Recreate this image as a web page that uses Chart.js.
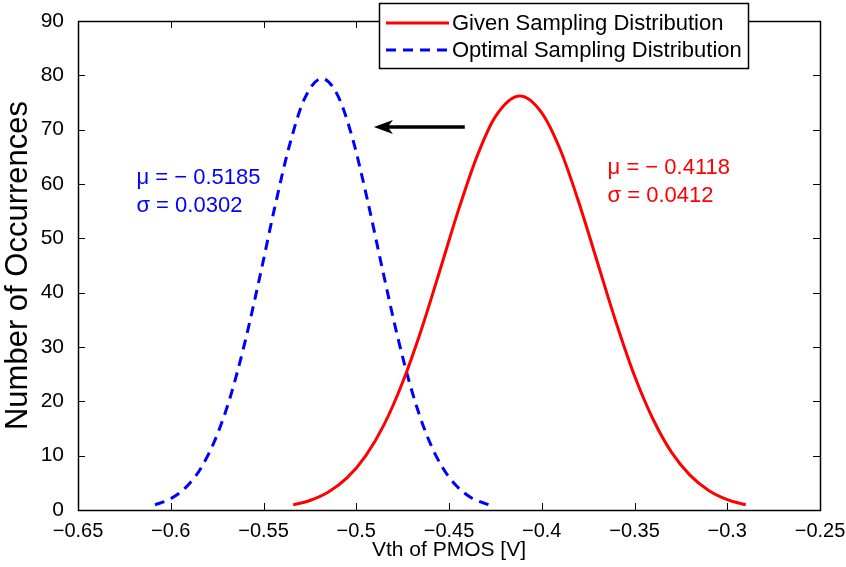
<!DOCTYPE html>
<html>
<head>
<meta charset="utf-8">
<script src="https://cdn.jsdelivr.net/npm/chart.js@4.4.1/dist/chart.umd.min.js"></script>
<style>
  html, body { margin: 0; padding: 0; background: #fff; }
  #wrap { width: 846px; height: 567px; }
</style>
</head>
<body>
<div id="wrap"><canvas id="chart" width="846" height="567"></canvas></div>
<script>
// Values
const givenX = [-0.534, -0.525, -0.515, -0.505, -0.495, -0.485, -0.475, -0.465, -0.455, -0.445, -0.435, -0.425,
                -0.4118, -0.40, -0.39, -0.38, -0.37, -0.36, -0.35, -0.34, -0.33, -0.32, -0.31, -0.30, -0.29];
const givenY = [0.94, 1.75, 3.31, 5.90, 9.92, 15.7, 23.5, 33.1, 44.0, 55.1, 65.0, 72.4,
                76.2, 73.1, 66.3, 56.6, 45.6, 34.6, 24.7, 16.7, 10.6, 6.37, 3.60, 1.92, 0.96];

const optX = [-0.6085, -0.600, -0.592, -0.584, -0.576, -0.568, -0.560, -0.552, -0.544, -0.536, -0.528, -0.5185,
              -0.510, -0.502, -0.494, -0.486, -0.478, -0.470, -0.462, -0.454, -0.446, -0.438, -0.4285];
const optY = [0.94, 2.08, 4.11, 7.56, 13.0, 20.7, 30.9, 42.9, 55.6, 67.1, 75.6, 79.4,
              76.3, 68.4, 57.1, 44.5, 32.3, 21.9, 13.8, 8.11, 4.45, 2.27, 0.94];

const xTicks = [-0.65, -0.6, -0.55, -0.5, -0.45, -0.4, -0.35, -0.3, -0.25];
const yTicks = [0, 10, 20, 30, 40, 50, 60, 70, 80, 90];

const legendLabels = ['Given Sampling Distribution', 'Optimal Sampling Distribution'];
const optText = ['\u03bc = \u2212 0.5185', '\u03c3 = 0.0302'];
const givenText = ['\u03bc = \u2212 0.4118', '\u03c3 = 0.0412'];
const optTextPos = [-0.6185, 61.2];
const givenTextPos = [-0.3645, 63.0];
const arrowFrom = [-0.4415, 70.5];
const arrowTo = [-0.4905, 70.5];

const FONT = '"Liberation Sans", Arial, Helvetica, sans-serif';
const fmt = v => String(Math.round(v * 100) / 100).replace('-', '\u2212');

const pts = (xs, ys) => xs.map((x, i) => ({ x, y: ys[i] }));

// box, inward ticks, text, arrow and legend
const matlabLook = {
    id: 'matlabLook',
    afterDatasetsDraw(chart) {
        const { ctx, chartArea: a, scales: { x, y } } = chart;
        ctx.save();

        // annotations
        ctx.font = '22px ' + FONT;
        ctx.textBaseline = 'middle';
        ctx.textAlign = 'left';
        ctx.fillStyle = '#0000ff';
        optText.forEach((t, i) => ctx.fillText(t, x.getPixelForValue(optTextPos[0]), y.getPixelForValue(optTextPos[1]) + i * 28));
        ctx.fillStyle = '#ff0000';
        givenText.forEach((t, i) => ctx.fillText(t, x.getPixelForValue(givenTextPos[0]), y.getPixelForValue(givenTextPos[1]) + i * 28));

        // arrow
        const ax1 = x.getPixelForValue(arrowFrom[0]), ay = y.getPixelForValue(arrowFrom[1]);
        const ax2 = x.getPixelForValue(arrowTo[0]);
        ctx.strokeStyle = '#000';
        ctx.fillStyle = '#000';
        ctx.lineWidth = 3.5;
        ctx.beginPath();
        ctx.moveTo(ax1, ay);
        ctx.lineTo(ax2 + 8, ay);
        ctx.stroke();
        ctx.beginPath();
        ctx.moveTo(ax2, ay);
        ctx.lineTo(ax2 + 19, ay - 7);
        ctx.lineTo(ax2 + 14, ay);
        ctx.lineTo(ax2 + 19, ay + 7);
        ctx.closePath();
        ctx.fill();

        // ticks
        ctx.lineWidth = 1;
        ctx.strokeStyle = '#000';
        ctx.beginPath();
        xTicks.forEach(v => {
            const px = Math.round(x.getPixelForValue(v)) + 0.5;
            ctx.moveTo(px, a.bottom); ctx.lineTo(px, a.bottom - 7);
            ctx.moveTo(px, a.top); ctx.lineTo(px, a.top + 7);
        });
        yTicks.forEach(v => {
            const py = Math.round(y.getPixelForValue(v)) + 0.5;
            ctx.moveTo(a.left, py); ctx.lineTo(a.left + 7, py);
            ctx.moveTo(a.right, py); ctx.lineTo(a.right - 7, py);
        });
        ctx.stroke();

        // box
        ctx.lineWidth = 1.5;
        ctx.strokeRect(Math.round(a.left) + 0.5, Math.round(a.top) + 0.5, Math.round(a.width), Math.round(a.height));

        // legend
        const lx = 379, ly = 3, lw = 369, lh = 65;
        ctx.fillStyle = '#fff';
        ctx.fillRect(lx, ly, lw, lh);
        ctx.lineWidth = 1.5;
        ctx.strokeRect(lx + 0.5, ly + 0.5, lw, lh);
        const rows = [{ color: '#ff0000', dash: [] }, { color: '#0000ff', dash: [10, 7] }];
        rows.forEach((r, i) => {
            const yy = ly + 20 + i * 27;
            ctx.strokeStyle = r.color;
            ctx.lineWidth = 3;
            ctx.setLineDash(r.dash);
            ctx.beginPath();
            ctx.moveTo(lx + 7, yy);
            ctx.lineTo(lx + 70, yy);
            ctx.stroke();
            ctx.setLineDash([]);
            ctx.fillStyle = '#000';
            ctx.font = '22px ' + FONT;
            ctx.textAlign = 'left';
            ctx.textBaseline = 'middle';
            ctx.fillText(legendLabels[i], lx + 73, yy + 1);
        });
        ctx.restore();
    }
};

new Chart(document.getElementById('chart'), {
    type: 'scatter',
    data: {
        datasets: [
            {
                label: legendLabels[0],
                data: pts(givenX, givenY),
                showLine: true,
                borderColor: '#ff0000',
                borderWidth: 3,
                pointRadius: 0,
                cubicInterpolationMode: 'monotone'
            },
            {
                label: legendLabels[1],
                data: pts(optX, optY),
                showLine: true,
                borderColor: '#0000ff',
                borderWidth: 3,
                borderDash: [10, 7],
                pointRadius: 0,
                cubicInterpolationMode: 'monotone'
            }
        ]
    },
    options: {
        responsive: false,
        animation: false,
        layout: { padding: { top: 21, right: 26, left: 0, bottom: 0 } },
        plugins: { legend: { display: false }, tooltip: { enabled: false } },
        scales: {
            x: {
                type: 'linear',
                min: -0.65, max: -0.25,
                afterBuildTicks: s => { s.ticks = xTicks.map(v => ({ value: v })); },
                afterFit: s => { s.height = 57; s.paddingLeft = 0; s.paddingRight = 0; },
                grid: { display: false },
                border: { display: false },
                ticks: { color: '#000', font: { family: FONT, size: 20 }, padding: 1, maxRotation: 0, autoSkip: false, callback: fmt },
                title: { display: true, text: 'Vth of PMOS [V]', color: '#000', font: { family: FONT, size: 21 }, padding: { top: -2 } }
            },
            y: {
                min: 0, max: 90,
                afterBuildTicks: s => { s.ticks = yTicks.map(v => ({ value: v })); },
                afterFit: s => { s.width = 78; s.paddingTop = 0; s.paddingBottom = 0; },
                grid: { display: false },
                border: { display: false },
                ticks: { color: '#000', font: { family: FONT, size: 21 }, padding: 6, callback: fmt },
                title: { display: true, text: 'Number of Occurrences', color: '#000', font: { family: FONT, size: 31 }, padding: { top: 0, bottom: 0 } }
            }
        }
    },
    plugins: [matlabLook]
});
</script>
</body>
</html>
